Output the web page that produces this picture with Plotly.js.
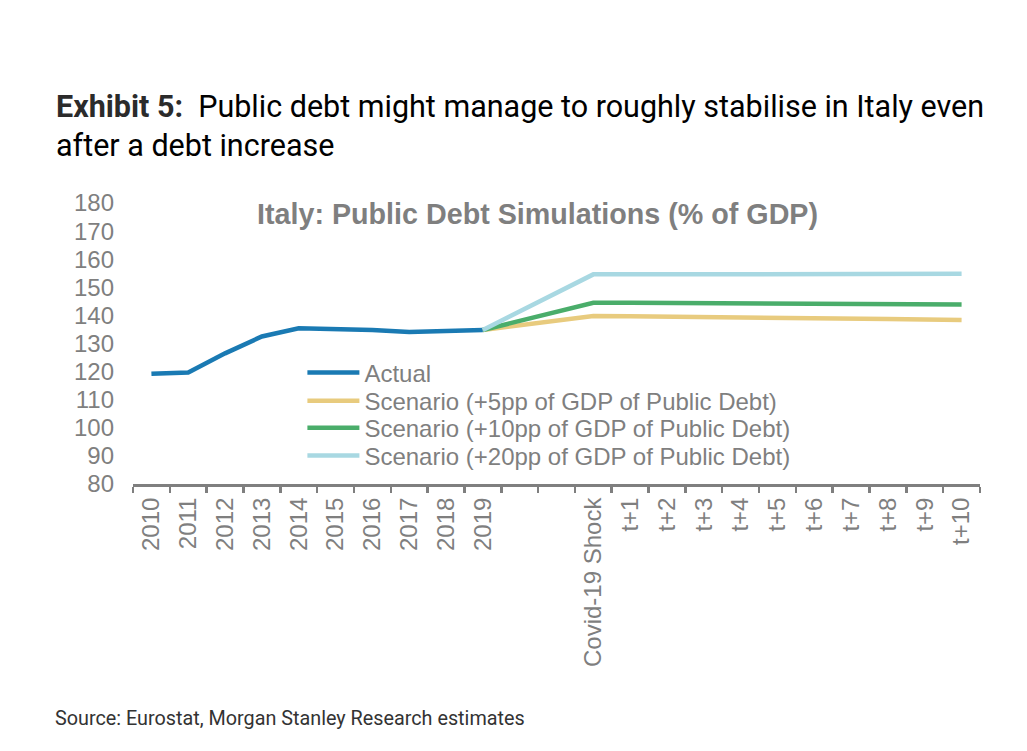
<!DOCTYPE html>
<html>
<head>
<meta charset="utf-8">
<script src="https://cdn.plot.ly/plotly-3.0.1.min.js"></script>
<style>
html,body{margin:0;padding:0;background:#fff;}
#chart{width:1027px;height:751px;}
</style>
</head>
<body>
<div id="chart"></div>
<script>
var categories = ['2010','2011','2012','2013','2014','2015','2016','2017','2018','2019',' ','  ','Covid-19 Shock','t+1','t+2','t+3','t+4','t+5','t+6','t+7','t+8','t+9','t+10'];
var actualX = ['2010','2011','2012','2013','2014','2015','2016','2017','2018','2019'];
var actualValues = [119.2,119.7,126.5,132.5,135.4,135.3,134.8,134.1,134.4,134.8];
var scenarioX = ['2019','Covid-19 Shock','t+1','t+2','t+3','t+4','t+5','t+6','t+7','t+8','t+9','t+10'];
var scenario5 = [134.8,139.8,139.7,139.6,139.4,139.3,139.1,139.0,138.8,138.7,138.5,138.4];
var scenario10 = [134.8,144.5,144.5,144.4,144.3,144.3,144.2,144.1,144.1,144.0,144.0,143.9];
var scenario20 = [134.8,154.6,154.6,154.6,154.6,154.7,154.7,154.7,154.7,154.8,154.8,154.8];
var seriesNames = ['Actual','Scenario (+5pp of GDP of Public Debt)','Scenario (+10pp of GDP of Public Debt)','Scenario (+20pp of GDP of Public Debt)'];

var gray = '#7f7f7f';
var traces = [
  {x: actualX, y: actualValues, name: seriesNames[0], legend:'legend', type:'scatter', mode:'lines', line:{color:'#1a7ab3', width:4.5}},
  {x: scenarioX, y: scenario5, name: seriesNames[1], legend:'legend2', type:'scatter', mode:'lines', line:{color:'#e8cb7e', width:4.5}},
  {x: scenarioX, y: scenario10, name: seriesNames[2], legend:'legend3', type:'scatter', mode:'lines', line:{color:'#4aad6a', width:4.5}},
  {x: scenarioX, y: scenario20, name: seriesNames[3], legend:'legend4', type:'scatter', mode:'lines', line:{color:'#a8d8e2', width:4.5}}
];

function leg(y){
  return {x:0.2, y:y, xanchor:'left', yanchor:'middle', bgcolor:'rgba(0,0,0,0)',
          font:{size:24, color:gray}, itemwidth:52};
}

var layout = {
  width:1027, height:751,
  margin:{l:133, r:47, t:203, b:267},
  paper_bgcolor:'#fff', plot_bgcolor:'#fff',
  font:{family:'"Liberation Sans", Arial, sans-serif', color:gray, size:24},
  showlegend:true,
  legend:leg(0.395), legend2:leg(0.295), legend3:leg(0.199), legend4:leg(0.0996),
  xaxis:{type:'category', categoryorder:'array', categoryarray:categories,
         range:[-0.5,22.5], showgrid:false, zeroline:false,
         showline:true, linecolor:gray, linewidth:3,
         ticks:'outside', tickson:'boundaries', ticklen:6, tickwidth:2.5, tickcolor:gray,
         tickangle:-90, tickfont:{size:24, color:gray}, ticklabelstandoff:1},
  yaxis:{range:[80,180], dtick:10, tick0:80, showgrid:false, zeroline:false, showline:false,
         ticks:'', tickfont:{size:24, color:gray}, ticklabelstandoff:18},
  annotations:[
    {xref:'paper', yref:'paper', x:-0.093, y:1.345, xanchor:'left', yanchor:'middle', showarrow:false,
     text:'<b><span style="color:#2b2b2b">Exhibit 5:</span></b>  Public debt might manage to roughly stabilise in Italy even',
     font:{family:'Roboto, sans-serif', size:30.5, color:'#000'}},
    {xref:'paper', yref:'paper', x:-0.093, y:1.203, xanchor:'left', yanchor:'middle', showarrow:false,
     text:'after a debt increase',
     font:{family:'Roboto, sans-serif', size:30.5, color:'#000'}},
    {xref:'paper', yref:'paper', x:0.478, y:0.961, xanchor:'center', yanchor:'middle', showarrow:false,
     text:'<b>Italy: Public Debt Simulations (% of GDP)</b>',
     font:{family:'"Liberation Sans", Arial, sans-serif', size:28.7, color:gray}},
    {xref:'paper', yref:'paper', x:-0.094, y:-0.833, xanchor:'left', yanchor:'middle', showarrow:false,
     text:'Source: Eurostat, Morgan Stanley Research estimates',
     font:{family:'Roboto, sans-serif', size:19.8, color:'#333'}}
  ]
};

Plotly.newPlot('chart', traces, layout, {displayModeBar:false, staticPlot:true});
</script>
</body>
</html>
